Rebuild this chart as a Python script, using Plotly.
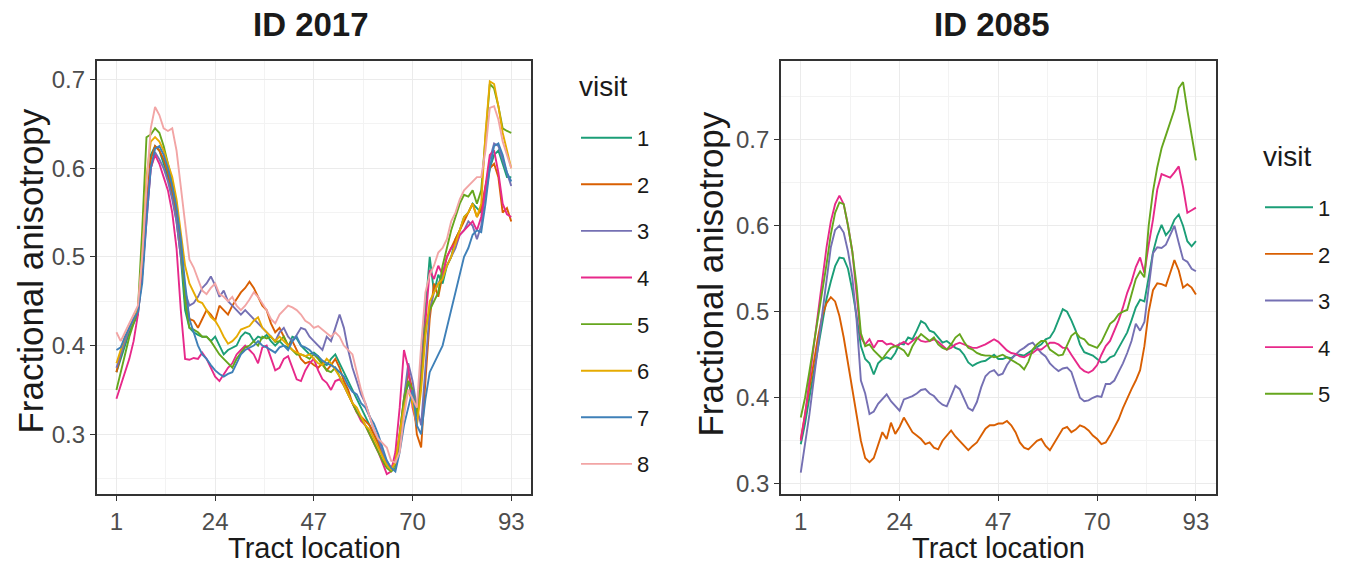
import plotly.graph_objects as go

locations = list(range(1, 94))
x_ticks = [1, 24, 47, 70, 93]
x_minor = [12.5, 35.5, 58.5, 81.5]

colors = ["#1B9E77", "#D95F02", "#7570B3", "#E7298A", "#66A61E", "#E6AB02", "#3F80B8", "#F2A5A5"]

# ---------------- ID 2017 ----------------
id2017_visit1 = [0.37,0.385,0.40,0.415,0.425,0.435,0.48,0.55,0.615,0.625,0.62,0.605,0.59,0.57,0.54,0.5,0.44,0.42,0.415,0.412,
 0.41,0.41,0.405,0.41,0.4,0.39,0.395,0.398,0.4,0.41,0.415,0.413,0.405,0.41,0.408,0.412,0.405,0.40,0.405,0.40,
 0.398,0.41,0.408,0.40,0.395,0.39,0.392,0.388,0.38,0.378,0.385,0.39,0.38,0.37,0.36,0.35,0.34,0.33,0.32,0.31,
 0.30,0.29,0.278,0.265,0.26,0.265,0.29,0.33,0.36,0.34,0.32,0.38,0.44,0.50,0.46,0.48,0.47,0.49,0.50,0.52,
 0.53,0.545,0.55,0.56,0.555,0.55,0.57,0.60,0.615,0.62,0.605,0.59,0.59]
id2017_visit2 = [0.37,0.39,0.405,0.42,0.43,0.44,0.49,0.56,0.61,0.625,0.62,0.61,0.595,0.575,0.55,0.51,0.46,0.43,0.428,0.42,
 0.43,0.44,0.435,0.428,0.445,0.44,0.435,0.445,0.452,0.46,0.465,0.472,0.465,0.455,0.445,0.44,0.425,0.415,0.42,0.41,
 0.40,0.405,0.395,0.385,0.38,0.382,0.378,0.375,0.38,0.372,0.378,0.385,0.375,0.36,0.35,0.335,0.325,0.32,0.315,0.31,
 0.3,0.29,0.275,0.265,0.262,0.27,0.3,0.34,0.37,0.35,0.30,0.285,0.36,0.43,0.47,0.455,0.48,0.50,0.51,0.52,
 0.53,0.54,0.55,0.56,0.545,0.555,0.58,0.6,0.605,0.59,0.55,0.555,0.54]
id2017_visit3 = [0.375,0.39,0.405,0.42,0.43,0.44,0.48,0.55,0.6,0.618,0.61,0.6,0.585,0.565,0.54,0.5,0.46,0.445,0.448,0.455,
 0.465,0.47,0.478,0.468,0.455,0.462,0.45,0.445,0.44,0.435,0.44,0.435,0.43,0.425,0.42,0.415,0.41,0.405,0.415,0.42,
 0.41,0.405,0.412,0.42,0.418,0.41,0.405,0.4,0.395,0.41,0.405,0.42,0.435,0.42,0.395,0.375,0.36,0.345,0.335,0.32,
 0.305,0.295,0.28,0.27,0.262,0.265,0.29,0.34,0.38,0.36,0.33,0.31,0.38,0.44,0.46,0.47,0.48,0.49,0.5,0.51,
 0.525,0.53,0.54,0.535,0.52,0.535,0.575,0.61,0.628,0.625,0.61,0.595,0.58]
id2017_visit4 = [0.34,0.355,0.37,0.385,0.405,0.435,0.48,0.545,0.6,0.615,0.605,0.59,0.575,0.55,0.51,0.44,0.385,0.384,0.386,0.385,
 0.392,0.385,0.375,0.365,0.36,0.368,0.375,0.38,0.39,0.395,0.4,0.395,0.39,0.38,0.398,0.4,0.385,0.372,0.375,0.385,
 0.388,0.375,0.362,0.36,0.372,0.38,0.385,0.372,0.362,0.358,0.35,0.36,0.362,0.355,0.345,0.335,0.325,0.315,0.31,0.3,
 0.29,0.28,0.268,0.255,0.258,0.28,0.33,0.395,0.375,0.33,0.31,0.37,0.43,0.485,0.475,0.49,0.48,0.5,0.51,0.515,
 0.525,0.53,0.535,0.54,0.53,0.545,0.58,0.615,0.62,0.595,0.56,0.548,0.545]
id2017_visit5 = [0.35,0.37,0.39,0.41,0.425,0.44,0.53,0.635,0.638,0.645,0.64,0.625,0.605,0.585,0.56,0.52,0.45,0.42,0.418,0.415,
 0.41,0.41,0.405,0.398,0.39,0.385,0.38,0.375,0.385,0.392,0.398,0.4,0.405,0.4,0.41,0.408,0.41,0.404,0.405,0.41,
 0.4,0.395,0.39,0.39,0.388,0.385,0.39,0.385,0.378,0.372,0.37,0.375,0.365,0.355,0.345,0.335,0.325,0.318,0.31,0.3,
 0.29,0.28,0.27,0.262,0.258,0.262,0.3,0.34,0.36,0.35,0.32,0.36,0.42,0.44,0.45,0.46,0.49,0.51,0.53,0.545,
 0.56,0.57,0.568,0.575,0.56,0.575,0.64,0.695,0.69,0.67,0.645,0.642,0.64]
id2017_visit6 = [0.38,0.395,0.41,0.42,0.43,0.44,0.5,0.59,0.63,0.635,0.63,0.62,0.605,0.59,0.565,0.53,0.49,0.47,0.46,0.45,
 0.448,0.44,0.432,0.428,0.42,0.41,0.402,0.405,0.41,0.418,0.42,0.422,0.428,0.432,0.42,0.415,0.41,0.405,0.41,0.405,
 0.4,0.395,0.392,0.39,0.388,0.39,0.385,0.38,0.378,0.385,0.38,0.372,0.365,0.355,0.345,0.335,0.33,0.32,0.31,0.305,
 0.295,0.285,0.275,0.265,0.26,0.268,0.3,0.33,0.35,0.335,0.31,0.35,0.41,0.45,0.46,0.47,0.475,0.49,0.5,0.515,
 0.53,0.545,0.55,0.56,0.545,0.56,0.64,0.698,0.695,0.67,0.64,0.62,0.6]
id2017_visit7 = [0.395,0.398,0.41,0.42,0.43,0.438,0.47,0.54,0.6,0.622,0.625,0.615,0.6,0.58,0.555,0.52,0.47,0.43,0.415,0.4,
 0.39,0.385,0.378,0.372,0.368,0.365,0.368,0.37,0.38,0.39,0.395,0.398,0.4,0.405,0.4,0.398,0.395,0.392,0.398,0.4,
 0.395,0.405,0.41,0.4,0.398,0.395,0.39,0.388,0.383,0.38,0.378,0.375,0.37,0.365,0.355,0.348,0.345,0.335,0.33,0.32,
 0.312,0.3,0.285,0.27,0.262,0.258,0.28,0.31,0.33,0.35,0.31,0.3,0.34,0.37,0.38,0.39,0.4,0.42,0.44,0.46,
 0.48,0.5,0.51,0.525,0.53,0.528,0.56,0.6,0.625,0.628,0.615,0.595,0.585]
id2017_visit8 = [0.415,0.405,0.415,0.425,0.435,0.445,0.5,0.58,0.645,0.669,0.66,0.645,0.642,0.645,0.62,0.58,0.54,0.497,0.488,0.475,
 0.462,0.458,0.465,0.47,0.458,0.455,0.45,0.455,0.445,0.44,0.445,0.452,0.46,0.455,0.448,0.44,0.43,0.425,0.435,0.44,
 0.445,0.443,0.44,0.435,0.428,0.425,0.42,0.422,0.418,0.415,0.41,0.415,0.41,0.4,0.395,0.39,0.37,0.35,0.335,0.32,
 0.305,0.295,0.29,0.285,0.27,0.268,0.28,0.32,0.35,0.34,0.33,0.4,0.46,0.48,0.49,0.505,0.51,0.52,0.54,0.55,
 0.565,0.575,0.58,0.585,0.59,0.59,0.62,0.668,0.67,0.655,0.63,0.615,0.6]

# ---------------- ID 2085 ----------------
id2085_visit1 = [0.346,0.37,0.40,0.43,0.46,0.49,0.515,0.535,0.553,0.563,0.562,0.55,0.525,0.495,0.46,0.445,0.44,0.427,0.44,0.445,
 0.447,0.445,0.452,0.463,0.462,0.47,0.468,0.478,0.489,0.486,0.478,0.476,0.47,0.464,0.466,0.462,0.458,0.456,0.45,0.441,
 0.437,0.44,0.442,0.443,0.447,0.45,0.445,0.445,0.447,0.446,0.45,0.45,0.449,0.452,0.455,0.458,0.462,0.468,0.47,0.478,
 0.49,0.503,0.5,0.49,0.478,0.462,0.453,0.451,0.449,0.445,0.441,0.442,0.447,0.449,0.458,0.466,0.476,0.49,0.505,0.514,
 0.512,0.54,0.569,0.588,0.601,0.589,0.595,0.607,0.613,0.6,0.582,0.576,0.582]
id2085_visit2 = [0.352,0.38,0.41,0.44,0.47,0.495,0.51,0.517,0.512,0.495,0.47,0.44,0.41,0.38,0.35,0.33,0.325,0.33,0.345,0.36,
 0.352,0.371,0.358,0.366,0.377,0.368,0.36,0.356,0.352,0.346,0.348,0.342,0.34,0.35,0.356,0.362,0.355,0.35,0.344,0.339,
 0.344,0.348,0.356,0.364,0.368,0.368,0.37,0.37,0.373,0.368,0.36,0.348,0.342,0.34,0.345,0.35,0.352,0.344,0.339,0.347,
 0.356,0.364,0.366,0.36,0.363,0.368,0.366,0.362,0.356,0.352,0.346,0.348,0.356,0.365,0.375,0.388,0.4,0.41,0.42,0.432,
 0.46,0.5,0.525,0.533,0.532,0.53,0.545,0.56,0.548,0.528,0.532,0.528,0.52]
id2085_visit3 = [0.313,0.345,0.38,0.42,0.46,0.5,0.54,0.575,0.595,0.6,0.592,0.57,0.54,0.49,0.42,0.405,0.381,0.384,0.393,0.398,
 0.404,0.396,0.39,0.385,0.398,0.4,0.402,0.405,0.409,0.41,0.405,0.402,0.396,0.392,0.39,0.402,0.414,0.41,0.398,0.388,
 0.385,0.395,0.412,0.425,0.43,0.432,0.426,0.428,0.438,0.445,0.45,0.455,0.458,0.462,0.464,0.458,0.452,0.448,0.44,0.435,
 0.431,0.434,0.435,0.43,0.415,0.4,0.396,0.397,0.4,0.402,0.401,0.416,0.416,0.42,0.43,0.44,0.452,0.466,0.486,0.478,
 0.488,0.53,0.568,0.575,0.574,0.578,0.59,0.6,0.58,0.561,0.558,0.55,0.547]
id2085_visit4 = [0.35,0.38,0.42,0.46,0.5,0.54,0.575,0.605,0.625,0.635,0.625,0.6,0.57,0.52,0.47,0.462,0.468,0.458,0.466,0.466,
 0.462,0.463,0.46,0.462,0.465,0.462,0.466,0.47,0.466,0.465,0.466,0.468,0.465,0.46,0.456,0.458,0.462,0.464,0.462,0.46,
 0.458,0.458,0.46,0.462,0.465,0.468,0.465,0.46,0.455,0.452,0.451,0.448,0.447,0.45,0.452,0.456,0.456,0.46,0.464,0.464,
 0.462,0.458,0.458,0.45,0.442,0.435,0.431,0.429,0.432,0.438,0.45,0.46,0.466,0.478,0.49,0.505,0.522,0.535,0.552,0.563,
 0.545,0.578,0.607,0.642,0.66,0.658,0.656,0.662,0.669,0.645,0.615,0.618,0.621]
id2085_visit5 = [0.377,0.4,0.43,0.46,0.49,0.52,0.555,0.59,0.615,0.627,0.625,0.6,0.57,0.53,0.475,0.46,0.462,0.455,0.45,0.445,
 0.452,0.458,0.46,0.458,0.455,0.448,0.46,0.468,0.474,0.47,0.466,0.47,0.462,0.458,0.456,0.462,0.47,0.474,0.465,0.458,
 0.456,0.452,0.45,0.449,0.449,0.447,0.448,0.45,0.447,0.445,0.442,0.438,0.433,0.442,0.456,0.462,0.466,0.466,0.456,0.452,
 0.449,0.45,0.462,0.472,0.476,0.47,0.468,0.462,0.46,0.458,0.465,0.475,0.486,0.49,0.497,0.5,0.502,0.52,0.538,0.547,
 0.54,0.6,0.64,0.668,0.69,0.705,0.72,0.735,0.76,0.767,0.734,0.705,0.676]

panel_left = [id2017_visit1, id2017_visit2, id2017_visit3, id2017_visit4,
              id2017_visit5, id2017_visit6, id2017_visit7, id2017_visit8]
panel_right = [id2085_visit1, id2085_visit2, id2085_visit3, id2085_visit4, id2085_visit5]

FONT = "Liberation Sans, Arial, Helvetica, sans-serif"
W, H = 1353, 572

fig = go.Figure()
for i, ys in enumerate(panel_left):
    fig.add_trace(go.Scatter(x=locations, y=ys, mode="lines", name=str(i + 1),
                             line=dict(color=colors[i], width=1.9),
                             xaxis="x", yaxis="y", legend="legend",
                             legendgroup="a" + str(i + 1)))
for i, ys in enumerate(panel_right):
    fig.add_trace(go.Scatter(x=locations, y=ys, mode="lines", name=str(i + 1),
                             line=dict(color=colors[i], width=1.9),
                             xaxis="x2", yaxis="y2", legend="legend2",
                             legendgroup="b" + str(i + 1)))

def px_x(p):
    return p / W

def px_y(p):
    return 1 - p / H

ydom = [px_y(496.7), px_y(61.7)]
TICKFONT = dict(family=FONT, size=24, color="#4D4D4D")

common_x = dict(tickvals=x_ticks, ticktext=[str(t) for t in x_ticks],
                showgrid=True, gridcolor="#EBEBEB", gridwidth=1.3,
                minor=dict(tickvals=x_minor, showgrid=True, gridcolor="#F3F3F3", gridwidth=0.7, ticks=""),
                showline=True, linecolor="#333333", linewidth=1.6, mirror=True,
                ticks="outside", ticklen=5, tickwidth=1.2, tickcolor="#333333",
                tickfont=TICKFONT, zeroline=False, range=[-3.6, 97.6], fixedrange=True)
common_y = dict(showgrid=True, gridcolor="#EBEBEB", gridwidth=1.3,
                showline=True, linecolor="#333333", linewidth=1.6, mirror=True,
                ticks="outside", ticklen=5, tickwidth=1.2, tickcolor="#333333",
                tickfont=TICKFONT, zeroline=False, fixedrange=True)

legend_style = dict(xanchor="left", yanchor="top",
                    font=dict(family=FONT, size=22, color="#1A1A1A"),
                    traceorder="grouped", tracegroupgap=15,
                    bgcolor="rgba(0,0,0,0)")

fig.update_layout(
    width=W, height=H, autosize=False,
    margin=dict(l=0, r=0, t=0, b=0),
    paper_bgcolor="white", plot_bgcolor="white",
    font=dict(family=FONT, color="#1A1A1A"),
    xaxis=dict(common_x, domain=[px_x(96.7), px_x(531)], anchor="y"),
    yaxis=dict(common_y, domain=ydom, anchor="x", range=[0.2325, 0.7205],
               tickvals=[0.3, 0.4, 0.5, 0.6, 0.7], ticktext=["0.3", "0.4", "0.5", "0.6", "0.7"],
               minor=dict(tickvals=[0.25, 0.35, 0.45, 0.55, 0.65], showgrid=True,
                          gridcolor="#F3F3F3", gridwidth=0.7, ticks="")),
    xaxis2=dict(common_x, domain=[px_x(781), px_x(1215.7)], anchor="y2"),
    yaxis2=dict(common_y, domain=ydom, anchor="x2", range=[0.288, 0.791],
                tickvals=[0.3, 0.4, 0.5, 0.6, 0.7], ticktext=["0.3", "0.4", "0.5", "0.6", "0.7"],
                minor=dict(tickvals=[0.35, 0.45, 0.55, 0.65, 0.75], showgrid=True,
                           gridcolor="#F3F3F3", gridwidth=0.7, ticks="")),
    legend=dict(legend_style, x=px_x(576), y=px_y(117.5), itemwidth=51),
    legend2=dict(legend_style, x=px_x(1260), y=px_y(187.5), itemwidth=48),
    showlegend=True,
)

ann = [
    dict(text="<b>ID 2017</b>", x=px_x(311), y=px_y(25), font=dict(size=33), xanchor="center"),
    dict(text="<b>ID 2085</b>", x=px_x(992), y=px_y(25), font=dict(size=33), xanchor="center"),
    dict(text="Tract location", x=px_x(314), y=px_y(551), font=dict(size=29), xanchor="center"),
    dict(text="Tract location", x=px_x(998), y=px_y(551), font=dict(size=29), xanchor="center"),
    dict(text="Fractional anisotropy", x=px_x(31), y=px_y(273), textangle=-90, font=dict(size=35), xanchor="center"),
    dict(text="Fractional anisotropy", x=px_x(711), y=px_y(276), textangle=-90, font=dict(size=35), xanchor="center"),
    dict(text="visit", x=px_x(577), y=px_y(87), font=dict(size=28), xanchor="left"),
    dict(text="visit", x=px_x(1261), y=px_y(157), font=dict(size=28), xanchor="left"),
]
for a in ann:
    a["font"].update(family=FONT, color="#1A1A1A")
    fig.add_annotation(xref="paper", yref="paper", showarrow=False, yanchor="middle", **a)

fig.write_html("out.html", config={"displayModeBar": False},
               post_script="document.body.style.margin='0';document.body.style.overflow='hidden';")
